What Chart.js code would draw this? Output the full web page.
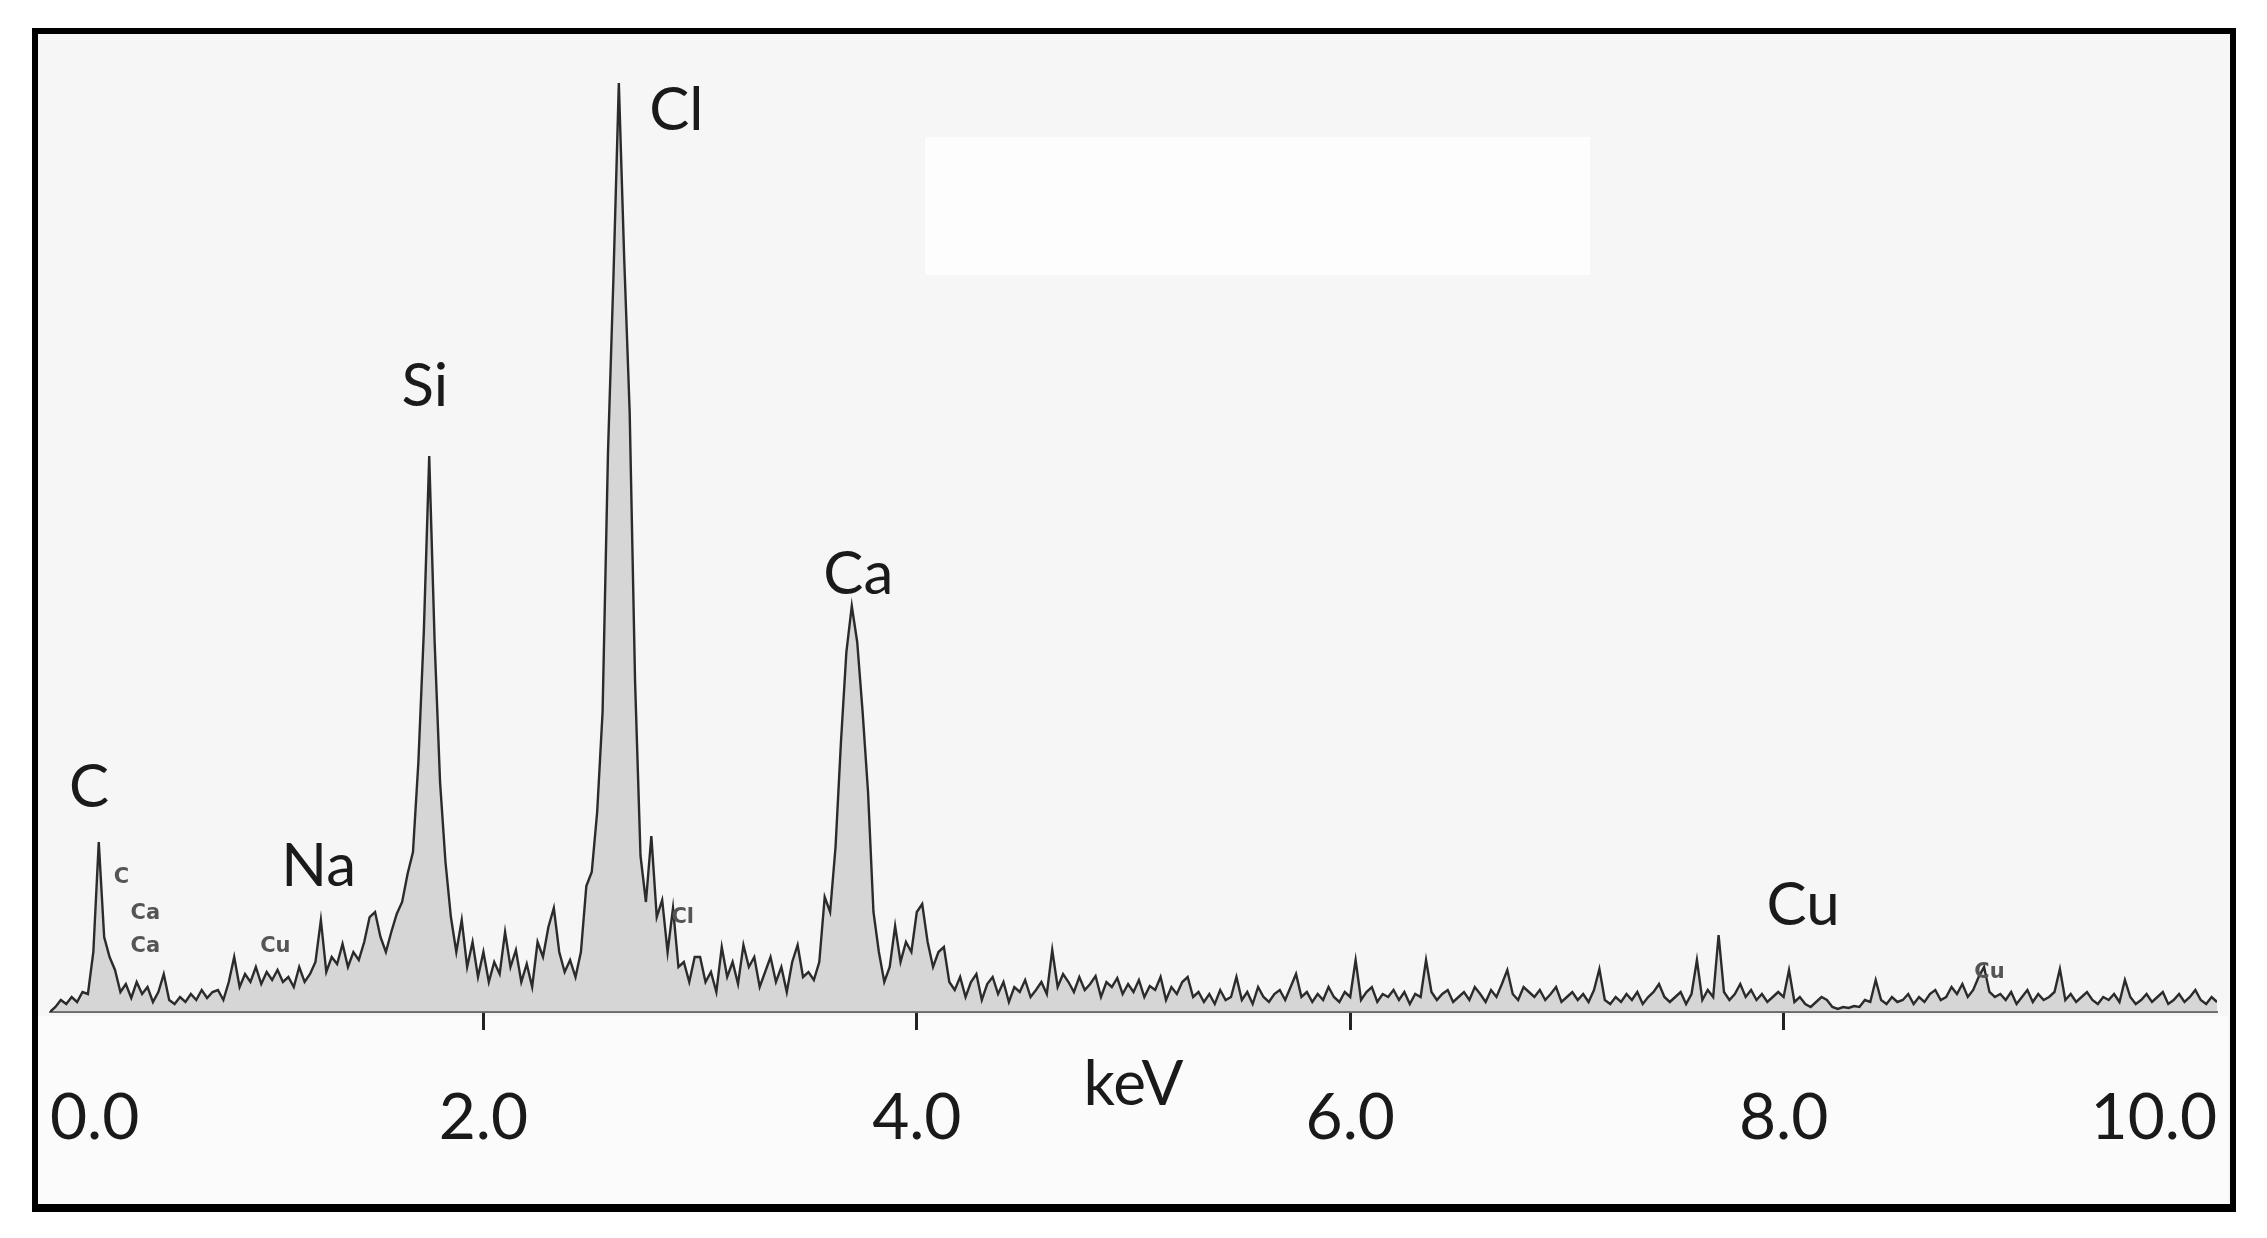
<!DOCTYPE html>
<html>
<head>
<meta charset="utf-8">
<script src="https://cdn.jsdelivr.net/npm/chart.js@4.4.1/dist/chart.umd.min.js"></script>
<style>
  body { margin: 0; background: #fff; }
  canvas { display: block; }
</style>
</head>
<body>
<canvas id="edsChart" width="2267" height="1238"></canvas>
<script>
// channel width in keV
const STEP = 0.025;

// counts per channel, 0.0 - 10.0 keV (one row = 0.5 keV)
const counts = [
  0, 5, 12, 8, 15, 10, 20, 18, 60, 170, 75, 55, 42, 20, 28, 14, 30, 18, 25, 10,
  20, 38, 12, 8, 15, 10, 18, 12, 22, 14, 20, 22, 12, 30, 55, 25, 38, 30, 45, 28,
  40, 32, 42, 30, 35, 25, 45, 30, 38, 50, 92, 40, 55, 48, 68, 45, 60, 52, 70, 95,
  100, 75, 60, 80, 98, 110, 138, 160, 250, 380, 556, 370, 230, 150, 95, 60, 92, 45, 70, 35,
  60, 30, 50, 38, 80, 45, 62, 30, 48, 25, 70, 55, 85, 104, 60, 40, 52, 35, 60, 126,
  140, 200, 300, 560, 734, 929, 752, 600, 330, 156, 110, 176, 95, 112, 60, 104, 45, 50, 30, 55,
  55, 30, 40, 20, 65, 35, 50, 28, 67, 45, 55, 25, 40, 55, 30, 45, 20, 50, 67, 35,
  40, 32, 50, 115, 100, 165, 270, 360, 406, 370, 300, 220, 100, 60, 30, 45, 86, 50, 70, 60,
  100, 108, 70, 45, 60, 65, 30, 22, 35, 15, 30, 38, 12, 28, 35, 18, 30, 10, 25, 20,
  32, 15, 22, 30, 18, 62, 25, 38, 30, 20, 35, 22, 28, 36, 15, 30, 25, 34, 18, 28,
  20, 32, 15, 26, 22, 35, 12, 25, 18, 30, 35, 15, 20, 10, 18, 8, 22, 12, 15, 35,
  12, 20, 8, 25, 15, 10, 18, 22, 12, 25, 38, 15, 20, 10, 18, 12, 25, 15, 10, 20,
  15, 52, 12, 20, 25, 10, 18, 15, 22, 12, 20, 8, 18, 15, 52, 20, 12, 18, 22, 10,
  15, 20, 12, 25, 18, 10, 22, 15, 28, 42, 18, 12, 25, 20, 15, 22, 12, 18, 25, 10,
  15, 20, 12, 18, 10, 22, 43, 12, 8, 15, 10, 18, 12, 20, 8, 15, 20, 28, 15, 10,
  15, 20, 8, 18, 52, 12, 22, 15, 77, 20, 12, 18, 28, 15, 22, 12, 18, 10, 15, 20,
  15, 42, 10, 15, 8, 5, 10, 15, 12, 5, 3, 5, 4, 6, 5, 12, 10, 32, 12, 8,
  15, 10, 12, 18, 8, 15, 10, 18, 22, 12, 15, 25, 18, 28, 15, 22, 35, 45, 20, 15,
  18, 12, 20, 8, 15, 22, 10, 18, 12, 15, 20, 43, 12, 18, 10, 15, 20, 12, 8, 15,
  12, 18, 10, 32, 15, 8, 12, 18, 10, 15, 20, 8, 12, 18, 10, 15, 22, 12, 8, 15,
  10
];

const tickValues = [0, 2, 4, 6, 8, 10];

// element labels (keV, counts)
const elementNames = ['C', 'Na', 'Si', 'Cl', 'Ca', 'Cu'];
const elementKeV = [0.18, 1.24, 1.73, 2.89, 3.73, 8.09];
const elementY = [224, 145, 625, 901, 437, 106];

// small line markers written next to the peaks
const markerNames = ['C', 'Ca', 'Ca', 'Cu', 'Cl', 'Cu'];
const markerKeV = [0.33, 0.44, 0.44, 1.04, 2.92, 8.95];
const markerY = [134, 98, 65, 65, 94, 39];

const points = counts.map((c, i) => ({ x: i * STEP, y: c }));

// background, frame, labels
const decor = {
  id: 'decor',
  beforeDraw(chart) {
    const ctx = chart.ctx;
    ctx.save();
    ctx.fillStyle = '#ffffff';
    ctx.fillRect(0, 0, chart.width, chart.height);
    ctx.fillStyle = '#f6f6f6';
    ctx.fillRect(35, 31, 2198, 1176);
    ctx.fillStyle = '#fdfdfd';
    ctx.fillRect(925, 137, 665, 138);
    ctx.fillStyle = '#fbfbfb';
    ctx.fillRect(38, 1016, 2190, 188);
    ctx.restore();
  },
  afterDraw(chart) {
    const ctx = chart.ctx;
    const xs = chart.scales.x, ys = chart.scales.y;
    ctx.save();
    ctx.fillStyle = '#1a1a1a';
    ctx.textAlign = 'center';
    ctx.textBaseline = 'middle';
    ctx.font = '60px Lato';
    elementNames.forEach((n, i) => {
      ctx.fillText(n, xs.getPixelForValue(elementKeV[i]), ys.getPixelForValue(elementY[i]));
    });
    ctx.fillStyle = '#555';
    ctx.font = 'bold 21px "DejaVu Sans"';
    markerNames.forEach((n, i) => {
      ctx.fillText(n, xs.getPixelForValue(markerKeV[i]), ys.getPixelForValue(markerY[i]));
    });
    ctx.fillStyle = '#1a1a1a';
    ctx.font = '62px Lato';
    ctx.fillText('keV', xs.getPixelForValue(5.0), chart.chartArea.bottom + 73);
    // outer frame
    ctx.strokeStyle = '#000';
    ctx.lineWidth = 6;
    ctx.strokeRect(35, 31, 2198, 1176);
    ctx.fillStyle = '#000';
    ctx.fillRect(32, 1204, 2204, 8);
    ctx.restore();
  }
};

new Chart(document.getElementById('edsChart'), {
  type: 'line',
  data: {
    datasets: [{
      data: points,
      borderColor: '#2b2b2b',
      borderWidth: 2.4,
      backgroundColor: 'rgba(140,140,140,0.3)',
      fill: 'origin',
      pointRadius: 0,
      tension: 0
    }]
  },
  options: {
    responsive: false,
    animation: false,
    devicePixelRatio: 1,
    layout: { padding: { left: 40, right: 37, top: 12, bottom: 0 } },
    plugins: { legend: { display: false }, tooltip: { enabled: false } },
    scales: {
      x: {
        type: 'linear',
        min: 0,
        max: 10,
        afterBuildTicks: (s) => { s.ticks = tickValues.map(v => ({ value: v })); },
        afterFit: (s) => { s.height = 226; },
        border: { color: '#6a6a6a', width: 2 },
        grid: {
          drawOnChartArea: false,
          drawTicks: true,
          tickLength: 18,
          tickWidth: 3,
          tickColor: (c) => (c.tick && (c.tick.value === 0 || c.tick.value === 10)) ? 'rgba(0,0,0,0)' : '#222'
        },
        ticks: {
          align: 'inner',
          maxRotation: 0,
          padding: 50,
          color: '#1a1a1a',
          font: { family: 'Lato', size: 64 },
          callback: (v) => Number(v).toFixed(1)
        }
      },
      y: {
        display: false,
        min: 0,
        max: 1000
      }
    }
  },
  plugins: [decor]
});
</script>
</body>
</html>
